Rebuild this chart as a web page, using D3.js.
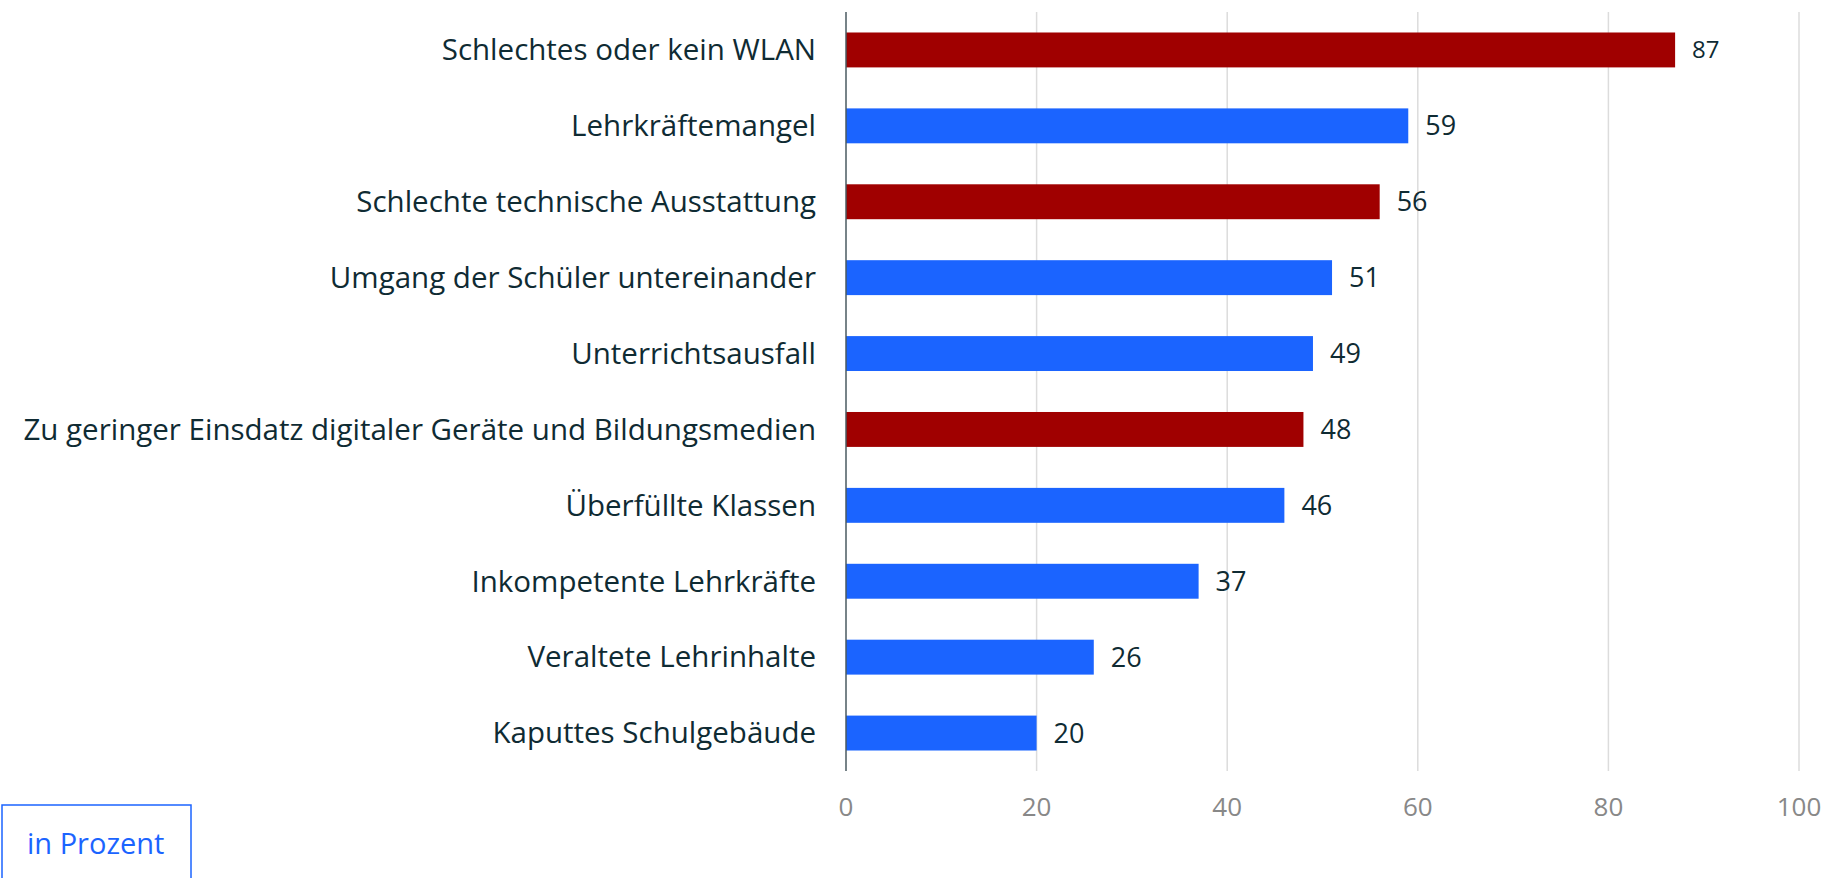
<!DOCTYPE html>
<meta charset="utf-8">
<style>
  body { margin: 0; background: #fff; }
  svg { display: block; font-family: "Open Sans", sans-serif; }
  .grid line { stroke: #dcdcdc; stroke-width: 1.5px; }
  .cat { fill: #0f2b33; font-size: 29.5px; }
  .val { fill: #0f2b33; font-size: 27px; }
  .tick-lbl { fill: #888; font-size: 26px; }
</style>
<svg width="1831" height="878"></svg>
<script src="https://d3js.org/d3.v7.min.js"></script>
<script>

  var categories = [
    "Schlechtes oder kein WLAN",
    "Lehrkräftemangel",
    "Schlechte technische Ausstattung",
    "Umgang der Schüler untereinander",
    "Unterrichtsausfall",
    "Zu geringer Einsdatz digitaler Geräte und Bildungsmedien",
    "Überfüllte Klassen",
    "Inkompetente Lehrkräfte",
    "Veraltete Lehrinhalte",
    "Kaputtes Schulgebäude"
  ];
  var values = [87, 59, 56, 51, 49, 48, 46, 37, 26, 20];
  // digital topics are highlighted in red
  var highlight = [true, false, true, false, false, true, false, false, false, false];
  var ticks = [0, 20, 40, 60, 80, 100];

  var svg = d3.select("svg");

  var x = d3.scaleLinear().domain([0, 100]).range([846, 1799]);
  var y = d3.scaleBand().domain(categories).range([12, 771])
      .paddingInner(0.54).paddingOuter(0.27);

  // vertical grid lines
  svg.append("g")
      .attr("class", "grid")
      .selectAll("line")
      .data(ticks.filter(function(d) { return d > 0; }))
      .enter().append("line")
      .attr("x1", function(d) { return x(d); })
      .attr("x2", function(d) { return x(d); })
      .attr("y1", 12)
      .attr("y2", 771);

  // bars
  svg.append("g")
      .selectAll("rect")
      .data(values)
      .enter().append("rect")
      .attr("x", x(0))
      .attr("y", function(d, i) { return y(categories[i]); })
      .attr("width", function(d) { return x(d) - x(0); })
      .attr("height", y.bandwidth())
      .attr("fill", function(d, i) { return highlight[i] ? "#a00000" : "#1b64ff"; });

  // value labels
  svg.append("g")
      .selectAll("text")
      .data(values)
      .enter().append("text")
      .attr("class", "val")
      .attr("x", function(d) { return x(d) + 17; })
      .attr("y", function(d, i) { return y(categories[i]) + y.bandwidth() / 2; })
      .attr("dy", "0.35em")
      .style("font-size", function(d, i) { return i === 0 ? "24px" : null; })
      .text(function(d) { return d; });

  // category labels
  svg.append("g")
      .selectAll("text")
      .data(categories)
      .enter().append("text")
      .attr("class", "cat")
      .attr("x", 816)
      .attr("y", function(d) { return y(d) + y.bandwidth() / 2; })
      .attr("dy", "0.35em")
      .attr("text-anchor", "end")
      .text(function(d) { return d; });

  // axis line
  svg.append("line")
      .attr("x1", x(0)).attr("x2", x(0))
      .attr("y1", 12).attr("y2", 771)
      .attr("stroke", "#4a5a60")
      .attr("stroke-width", 1.5);

  // tick labels
  svg.append("g")
      .selectAll("text")
      .data(ticks)
      .enter().append("text")
      .attr("class", "tick-lbl")
      .attr("x", function(d) { return x(d); })
      .attr("y", 816)
      .attr("text-anchor", "middle")
      .text(function(d) { return d; });

  // unit box
  svg.append("rect")
      .attr("x", 2).attr("y", 805)
      .attr("width", 189).attr("height", 90)
      .attr("fill", "none")
      .attr("stroke", "#1b64ff")
      .attr("stroke-width", 1.5);

  svg.append("text")
      .attr("x", 27).attr("y", 854)
      .attr("fill", "#1b64ff")
      .style("font-size", "29px")
      .text("in Prozent");

</script>
